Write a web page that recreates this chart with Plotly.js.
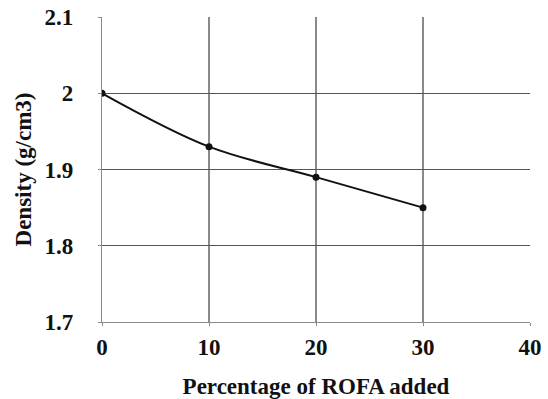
<!DOCTYPE html>
<html>
<head>
<meta charset="utf-8">
<script src="https://cdn.plot.ly/plotly-3.0.1.min.js"></script>
<style>html,body{margin:0;padding:0;background:#fff;}#chart{width:548px;height:399px;}</style>
</head>
<body>
<div id="chart"></div>
<script>
var rofaPercent = [0, 10, 20, 30];
var density = [2.0, 1.93, 1.89, 1.85];
var xTicks = [0, 10, 20, 30, 40];
var yTicks = [1.7, 1.8, 1.9, 2.0, 2.1];
var yTickText = ["1.7", "1.8", "1.9", "2", "2.1"];
var xTitle = "Percentage of ROFA added";
var yTitle = "Density (g/cm3)";

var fontFam = "'Liberation Serif', 'Times New Roman', serif";
var trace = {
  x: rofaPercent,
  y: density,
  mode: "lines+markers",
  type: "scatter",
  line: {color: "#111", width: 2, shape: "spline", smoothing: 1},
  marker: {color: "#111", size: 7},
  hoverinfo: "skip"
};
var layout = {
  width: 548, height: 399,
  margin: {l: 102, r: 18, t: 17, b: 77},
  paper_bgcolor: "#fff", plot_bgcolor: "#fff",
  showlegend: false,
  font: {family: fontFam, size: 23, color: "#111"},
  xaxis: {
    range: [0, 40], tickvals: xTicks, ticktext: xTicks.map(function (v) { return "<b>" + v + "</b>"; }),
    showgrid: true, gridcolor: "#8a8a8a", gridwidth: 1.2,
    showline: true, linecolor: "#8a8a8a", linewidth: 1.2, mirror: false,
    ticks: "outside", ticklen: 3, tickcolor: "#8a8a8a",
    zeroline: false, ticklabelstandoff: 1,
    tickfont: {family: fontFam, size: 23, color: "#111"},
    title: {text: "<b>" + xTitle + "</b>", standoff: 41, font: {family: fontFam, size: 23, color: "#111"}}
  },
  yaxis: {
    range: [1.7, 2.1], tickvals: yTicks, ticktext: yTickText.map(function (v) { return "<b>" + v + "</b>"; }),
    showgrid: true, gridcolor: "#555", gridwidth: 1.2,
    showline: true, linecolor: "#8a8a8a", linewidth: 1.2,
    ticks: "outside", ticklen: 3, tickcolor: "#8a8a8a",
    zeroline: false, ticklabelstandoff: 20,
    tickfont: {family: fontFam, size: 23, color: "#111"},
    title: {text: "<b>" + yTitle + "</b>", standoff: 6, font: {family: fontFam, size: 23, color: "#111"}}
  }
};
Plotly.newPlot("chart", [trace], layout, {staticPlot: true, displayModeBar: false});
</script>
</body>
</html>
